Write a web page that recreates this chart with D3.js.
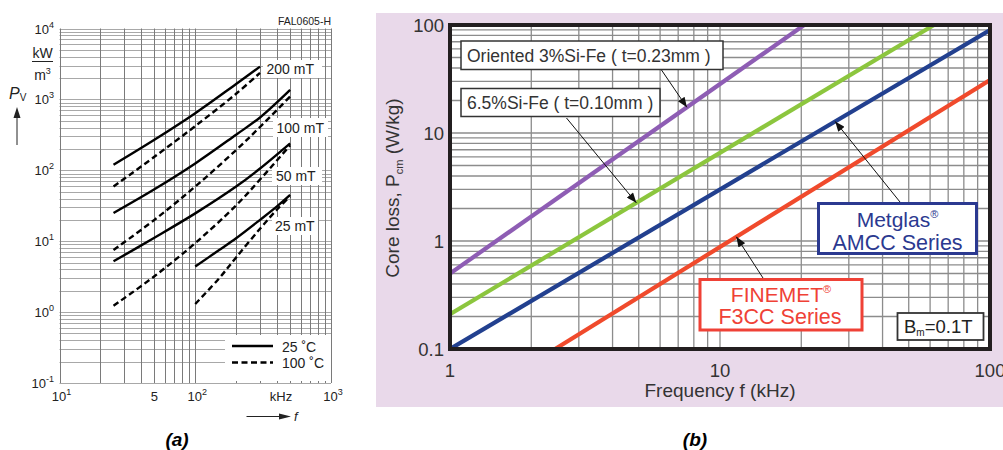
<!DOCTYPE html>
<html>
<head>
<meta charset="utf-8">
<script src="https://cdn.jsdelivr.net/npm/d3@7"></script>
<style>
  body { margin: 0; background: #fff; }
  svg { display: block; font-family: "Liberation Sans", Arial, Helvetica, sans-serif; }
</style>
</head>
<body>
<div id="scene"></div>
<script>
// ---------- panel (a) : ferrite Pv vs f (kHz, kW/m3) ----------
var aLabels = ["200 mT", "100 mT", "50 mT", "25 mT"];
var aFreq200 = [25, 50, 100, 200, 300];
var aFreqMid = [25, 50, 100, 200, 300, 500];
var aFreq25 = [100, 150, 200, 300, 400, 500];
var pv200Cold = [120, 270, 640, 1650, 2900];
var pv200Hot = [59, 155, 420, 1200, 2370];
var pv100Cold = [25, 54, 125, 318, 556, 1360];
var pv100Hot = [7.5, 20, 59, 193, 408, 1100];
var pv50Cold = [5.2, 11.2, 24.7, 59, 106, 240];
var pv50Hot = [1.23, 3.2, 9.4, 32, 74, 225];
var pv25Cold = [4.4, 7.5, 11, 20, 31, 45];
var pv25Hot = [1.3, 3.0, 5.9, 15, 28, 43];
var aYTickExp = [4, 3, 2, 1, 0, -1];
var aXTickVals = [10, 50, 100, 1000];
var aXTickBase = ["10", "5", "10", "10"];
var aXTickSup = ["1", "", "2", "3"];
var aLegend = ["25 \u02DAC", "100 \u02DAC"];

// ---------- panel (b) : core loss vs f (kHz, W/kg) ----------
var bNames = ["Oriented 3%Si-Fe", "6.5%Si-Fe", "Metglas AMCC", "FINEMET F3CC"];
var freqOriented = [1, 20.5];
var lossOriented = [0.5, 100];
var freqSiFe65 = [1, 62];
var lossSiFe65 = [0.21, 100];
var freqMetglas = [1, 100];
var lossMetglas = [0.1, 90];
var freqFinemet = [2.45, 100];
var lossFinemet = [0.1, 31];
var bYTicks = [0.1, 1, 10, 100];
var bXTicks = [1, 10, 100];

var bColors = ["#8e5db4", "#8cc63e", "#22408f", "#f04a2c"];

var W = 1003, H = 450;
var svg = d3.select("#scene").append("svg").attr("width", W).attr("height", H);

var zip = function(xs, ys) { return xs.map(function(x, i) { return [x, ys[i]]; }); };

/****************************************/
/************** PANEL (a) ***************/
/****************************************/
var ax = d3.scaleLog().domain([10, 1000]).range([59.5, 331]);
var ay = d3.scaleLog().domain([0.1, 10000]).range([383, 28.5]);
var ga = svg.append("g");

ga.selectAll("line.hg").data(ay.ticks()).enter().append("line")
  .attr("x1", ax.range()[0]).attr("x2", ax.range()[1])
  .attr("y1", function(d) { return Math.round(ay(d)) + 0.5; })
  .attr("y2", function(d) { return Math.round(ay(d)) + 0.5; })
  .attr("stroke", "#a8a8a8").attr("stroke-width", 1);
ga.selectAll("line.vg").data(ax.ticks()).enter().append("line")
  .attr("y1", ay.range()[0]).attr("y2", ay.range()[1])
  .attr("x1", function(d) { return Math.round(ax(d)) + 0.5; })
  .attr("x2", function(d) { return Math.round(ax(d)) + 0.5; })
  .attr("stroke", "#7a7a7a").attr("stroke-width", 1);

// white boxes behind curve labels and legend
var aBoxes = [[263, 60, 59, 18], [273, 118, 55, 19], [272, 167, 50, 18], [272, 217, 46, 18], [225, 335, 106, 46]];
ga.selectAll("rect.bg").data(aBoxes).enter().append("rect")
  .attr("x", function(d) { return d[0]; }).attr("y", function(d) { return d[1]; })
  .attr("width", function(d) { return d[2]; }).attr("height", function(d) { return d[3]; })
  .attr("fill", "#fff");

var aLine = d3.line().x(function(d) { return ax(d[0]); }).y(function(d) { return ay(d[1]); })
  .curve(d3.curveCatmullRom.alpha(0.5));
var aCurves = [
  {pts: zip(aFreq200, pv200Cold), dash: null},
  {pts: zip(aFreq200, pv200Hot), dash: "6,3.5"},
  {pts: zip(aFreqMid, pv100Cold), dash: null},
  {pts: zip(aFreqMid, pv100Hot), dash: "6,3.5"},
  {pts: zip(aFreqMid, pv50Cold), dash: null},
  {pts: zip(aFreqMid, pv50Hot), dash: "6,3.5"},
  {pts: zip(aFreq25, pv25Cold), dash: null},
  {pts: zip(aFreq25, pv25Hot), dash: "6,3.5"}
];
ga.selectAll("path.curve").data(aCurves).enter().append("path")
  .attr("d", function(d) { return aLine(d.pts); })
  .attr("fill", "none").attr("stroke", "#000").attr("stroke-width", 2.4)
  .attr("stroke-dasharray", function(d) { return d.dash; });

var aLabelPos = [[266.5, 74], [276.5, 132.5], [276, 181], [275, 231]];
ga.selectAll("text.cl").data(aLabels).enter().append("text")
  .attr("x", function(d, i) { return aLabelPos[i][0]; })
  .attr("y", function(d, i) { return aLabelPos[i][1]; })
  .attr("font-size", 14).attr("fill", "#222").text(function(d) { return d; });

// legend
[null, "6,3.5"].forEach(function(dash, i) {
  ga.append("line").attr("x1", 232).attr("x2", 273)
    .attr("y1", 346 + i * 16.5).attr("y2", 346 + i * 16.5)
    .attr("stroke", "#000").attr("stroke-width", 2.4).attr("stroke-dasharray", dash);
  ga.append("text").attr("x", 282).attr("y", 351.5 + i * 16.5)
    .attr("font-size", 14).attr("fill", "#222").text(aLegend[i]);
});

// y tick labels
aYTickExp.forEach(function(e) {
  var t = ga.append("text").attr("x", 54).attr("y", ay(Math.pow(10, e)) + 5)
    .attr("text-anchor", "end").attr("font-size", 13).attr("fill", "#222");
  t.append("tspan").text("10");
  t.append("tspan").attr("dy", -6).attr("font-size", 9).text(e < 0 ? "-" + (-e) : e);
});
// x tick labels
aXTickVals.forEach(function(v, i) {
  var t = ga.append("text").attr("x", ax(v) + (aXTickSup[i] ? 2 : 0)).attr("y", 401)
    .attr("text-anchor", "middle").attr("font-size", 13).attr("fill", "#222");
  t.append("tspan").text(aXTickBase[i]);
  if (aXTickSup[i]) t.append("tspan").attr("dy", -6).attr("font-size", 9).text(aXTickSup[i]);
});
ga.append("text").attr("x", 281).attr("y", 401).attr("text-anchor", "middle")
  .attr("font-size", 13).attr("fill", "#222").text("kHz");

// unit and quantity
ga.append("text").attr("x", 42.5).attr("y", 58).attr("text-anchor", "middle")
  .attr("font-size", 14).attr("fill", "#222").text("kW");
ga.append("line").attr("x1", 32).attr("x2", 53).attr("y1", 61.5).attr("y2", 61.5)
  .attr("stroke", "#222").attr("stroke-width", 1);
var m3 = ga.append("text").attr("x", 42.5).attr("y", 80).attr("text-anchor", "middle")
  .attr("font-size", 14).attr("fill", "#222");
m3.append("tspan").text("m");
m3.append("tspan").attr("dy", -6).attr("font-size", 9).text("3");
var pv = ga.append("text").attr("x", 9).attr("y", 99).attr("font-size", 16).attr("fill", "#222");
pv.append("tspan").attr("font-style", "italic").text("P");
pv.append("tspan").attr("dy", 2).attr("font-size", 10).text("V");
ga.append("line").attr("x1", 17).attr("x2", 17).attr("y1", 145).attr("y2", 116)
  .attr("stroke", "#222").attr("stroke-width", 1);
ga.append("path").attr("d", "M17,107 L13.5,118 L20.5,118 Z").attr("fill", "#222");
ga.append("line").attr("x1", 246.5).attr("x2", 281).attr("y1", 416.5).attr("y2", 416.5)
  .attr("stroke", "#222").attr("stroke-width", 1);
ga.append("path").attr("d", "M291,416.5 L279,413.5 L279,419.5 Z").attr("fill", "#222");
ga.append("text").attr("x", 294).attr("y", 421).attr("font-size", 13)
  .attr("font-style", "italic").attr("fill", "#222").text("f");
ga.append("text").attr("x", 331).attr("y", 25).attr("text-anchor", "end")
  .attr("font-size", 10.5).attr("fill", "#222").text("FAL0605-H");

/****************************************/
/************** PANEL (b) ***************/
/****************************************/
var bx = d3.scaleLog().domain([1, 100]).range([450, 990]);
var by = d3.scaleLog().domain([0.1, 100]).range([349, 25]);
var gb = svg.append("g");

gb.append("rect").attr("x", 376).attr("y", 13).attr("width", 627).attr("height", 394)
  .attr("fill", "#e9d9ea");
gb.append("rect").attr("x", 450).attr("y", 25).attr("width", 540).attr("height", 324)
  .attr("fill", "#fff");

gb.selectAll("line.hg").data(by.ticks()).enter().append("line")
  .attr("x1", 450).attr("x2", 990)
  .attr("y1", function(d) { return by(d); }).attr("y2", function(d) { return by(d); })
  .attr("stroke", "#8c8c8c").attr("stroke-width", 1.3);
gb.selectAll("line.vg").data(bx.ticks()).enter().append("line")
  .attr("y1", 25).attr("y2", 349)
  .attr("x1", function(d) { return bx(d); }).attr("x2", function(d) { return bx(d); })
  .attr("stroke", "#8c8c8c").attr("stroke-width", 1.3);

svg.append("clipPath").attr("id", "bclip").append("rect")
  .attr("x", 450).attr("y", 25).attr("width", 540).attr("height", 324);

var bData = [zip(freqOriented, lossOriented), zip(freqSiFe65, lossSiFe65),
  zip(freqMetglas, lossMetglas), zip(freqFinemet, lossFinemet)];
var bLine = d3.line().x(function(d) { return bx(d[0]); }).y(function(d) { return by(d[1]); });
gb.append("g").attr("clip-path", "url(#bclip)").selectAll("path").data(bData).enter().append("path")
  .attr("d", bLine).attr("fill", "none").attr("stroke-width", 4.2)
  .attr("stroke", function(d, i) { return bColors[i]; });

gb.append("rect").attr("x", 450).attr("y", 25).attr("width", 540).attr("height", 324)
  .attr("fill", "none").attr("stroke", "#231f20").attr("stroke-width", 4);

// value of a straight log-log series at frequency f
var lossAt = function(pts, f) {
  var t = Math.log(f / pts[0][0]) / Math.log(pts[1][0] / pts[0][0]);
  return pts[0][1] * Math.pow(pts[1][1] / pts[0][1], t);
};

var defs = svg.append("defs");
defs.append("marker").attr("id", "ah").attr("viewBox", "0 0 10 8").attr("refX", 10).attr("refY", 4)
  .attr("markerWidth", 11).attr("markerHeight", 8).attr("markerUnits", "userSpaceOnUse")
  .attr("orient", "auto").append("path").attr("d", "M0,0 L10,4 L0,8 Z").attr("fill", "#111");

// annotation boxes: [x, y, w, h, stroke, strokeWidth]
var bBoxes = [[461, 41, 262, 28.5, "#333", 1.5], [461, 88.5, 199, 28, "#333", 1.5],
  [818.5, 203.5, 158, 50, "#2b3990", 3], [700, 279.5, 162, 50.5, "#ef4136", 3],
  [897.5, 313, 86, 27, "#333", 1.8]];
gb.selectAll("rect.box").data(bBoxes).enter().append("rect")
  .attr("x", function(d) { return d[0]; }).attr("y", function(d) { return d[1]; })
  .attr("width", function(d) { return d[2]; }).attr("height", function(d) { return d[3]; })
  .attr("fill", "#fff").attr("stroke", function(d) { return d[4]; })
  .attr("stroke-width", function(d) { return d[5]; });

// arrows from boxes to lines: [tailX, tailY, series index, tip frequency]
var bArrows = [[661.5, 70, 0, 7.54], [566.5, 118, 1, 4.9], [900, 202, 2, 26.7], [763, 278, 3, 11.5]];
gb.selectAll("line.arr").data(bArrows).enter().append("line")
  .attr("x1", function(d) { return d[0]; }).attr("y1", function(d) { return d[1]; })
  .attr("x2", function(d) { return bx(d[3]); })
  .attr("y2", function(d) { return by(lossAt(bData[d[2]], d[3])); })
  .attr("stroke", "#111").attr("stroke-width", 1).attr("marker-end", "url(#ah)");

gb.append("text").attr("x", 467).attr("y", 61.5).attr("font-size", 17.5).attr("fill", "#333")
  .text("Oriented 3%Si-Fe ( t=0.23mm )");
gb.append("text").attr("x", 467).attr("y", 109).attr("font-size", 17.5).attr("fill", "#333")
  .text("6.5%Si-Fe ( t=0.10mm )");
var mg = gb.append("text").attr("x", 897.5).attr("y", 227).attr("text-anchor", "middle")
  .attr("font-size", 21).attr("fill", "#2b3990");
mg.append("tspan").text("Metglas");
mg.append("tspan").attr("dy", -9).attr("font-size", 11).text("\u00AE");
gb.append("text").attr("x", 897.5).attr("y", 250).attr("text-anchor", "middle")
  .attr("font-size", 21.5).attr("fill", "#2b3990").text("AMCC Series");
var fm = gb.append("text").attr("x", 781).attr("y", 301.5).attr("text-anchor", "middle")
  .attr("font-size", 21).attr("fill", "#ef4136");
fm.append("tspan").text("FINEMET");
fm.append("tspan").attr("dy", -9).attr("font-size", 11).text("\u00AE");
gb.append("text").attr("x", 780).attr("y", 323.5).attr("text-anchor", "middle")
  .attr("font-size", 21.5).attr("fill", "#ef4136").text("F3CC Series");
var bm = gb.append("text").attr("x", 904).attr("y", 333).attr("font-size", 18.5).attr("fill", "#222");
bm.append("tspan").text("B");
bm.append("tspan").attr("dy", 3).attr("font-size", 10).text("m");
bm.append("tspan").attr("dy", -3).text("=0.1T");

// ticks and axis titles
gb.selectAll("text.yt").data(bYTicks).enter().append("text")
  .attr("x", 444).attr("y", function(d) { return by(d) + 7; }).attr("text-anchor", "end")
  .attr("font-size", 18.5).attr("fill", "#333").text(function(d) { return d; });
gb.selectAll("text.xt").data(bXTicks).enter().append("text")
  .attr("x", function(d) { return bx(d); }).attr("y", 377).attr("text-anchor", "middle")
  .attr("font-size", 18.5).attr("fill", "#333").text(function(d) { return d; });
gb.append("text").attr("x", 720).attr("y", 397).attr("text-anchor", "middle")
  .attr("font-size", 19).attr("fill", "#333").text("Frequency f (kHz)");
var yt = gb.append("text").attr("transform", "translate(399,188) rotate(-90)")
  .attr("text-anchor", "middle").attr("font-size", 19).attr("fill", "#333");
yt.append("tspan").text("Core loss, P");
yt.append("tspan").attr("dy", 4).attr("font-size", 11).text("cm");
yt.append("tspan").attr("dy", -4).text(" (W/kg)");

// panel captions
svg.append("text").attr("x", 177).attr("y", 446).attr("text-anchor", "middle")
  .attr("font-size", 19).attr("font-weight", "bold").attr("font-style", "italic").text("(a)");
svg.append("text").attr("x", 695).attr("y", 446).attr("text-anchor", "middle")
  .attr("font-size", 19).attr("font-weight", "bold").attr("font-style", "italic").text("(b)");
</script>
</body>
</html>
